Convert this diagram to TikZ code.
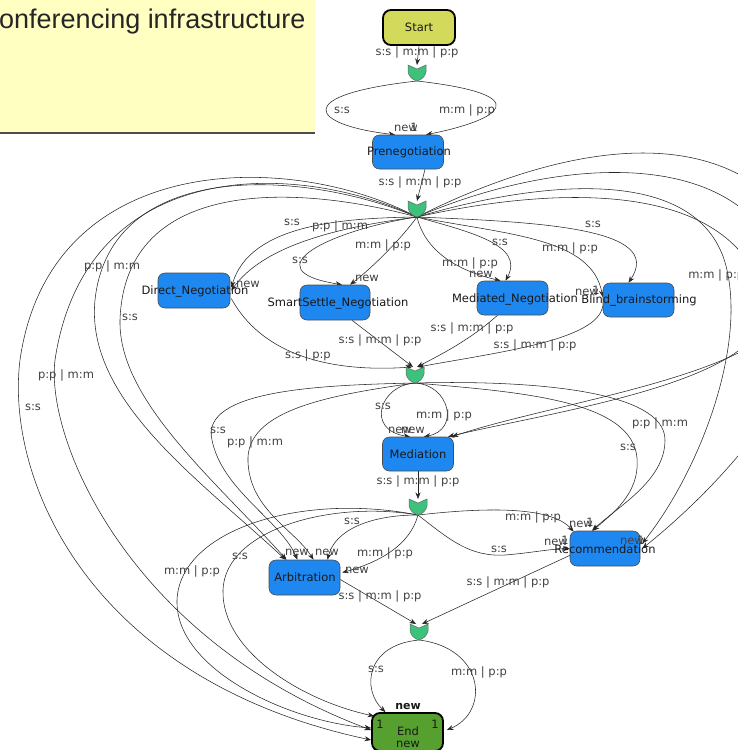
\documentclass[tikz,border=0pt]{standalone}
\usepackage{fontspec}
\setmainfont{DejaVu Sans}
\newfontfamily\titlefont{Liberation Sans}
\usetikzlibrary{arrows.meta,calc}
\definecolor{noteyellow}{HTML}{FFFFC2}
\definecolor{startfill}{HTML}{D3D95B}
\definecolor{bluefill}{HTML}{1E88F0}
\definecolor{mgreen}{HTML}{3DC27C}
\definecolor{endfill}{HTML}{56A02F}
\pgfdeclarelayer{bglayer}
\pgfdeclarelayer{edgelayer}
\pgfsetlayers{bglayer,edgelayer,main}
\newcommand{\shieldat}[1]{%
  \filldraw[fill=mgreen, draw=black!60, line width=0.5pt]
    ($(#1.center)+(-9,-8)$) -- ($(#1.center)+(-9,-1)$)
    .. controls ($(#1.center)+(-8,4)$) and ($(#1.center)+(-4,7)$) .. ($(#1.center)+(0,8)$)
    .. controls ($(#1.center)+(4,7)$) and ($(#1.center)+(8,4)$) .. ($(#1.center)+(9,-1)$)
    -- ($(#1.center)+(9,-8)$) -- ($(#1.center)+(0,-4)$) -- cycle;}
\begin{document}
\begin{tikzpicture}[x=1pt,y=-1pt,
  state/.style={draw=black!70, line width=0.6pt, fill=bluefill, rounded corners=7pt, minimum width=71pt, minimum height=34pt, inner sep=0pt},
  term/.style={draw=black, line width=1.8pt, rounded corners=8pt, inner sep=0pt},
  merge/.style={minimum width=18pt, minimum height=16pt, inner sep=0pt, outer sep=0pt},
  txt/.style={font=\fontsize{11.5}{13}\selectfont, text=black!90, inner sep=0pt},
  lab/.style={font=\fontsize{11.5}{13}\selectfont, text=black!75, inner sep=0pt},
  conn/.style={draw=black!85, line width=0.55pt, -{Stealth[length=6.5pt,width=5pt]}},
]
\useasboundingbox (0,0) rectangle (737,750);
\begin{pgfonlayer}{bglayer}
\fill[noteyellow] (0,0) rectangle (315,133);
\draw[black!70, line width=1.5pt] (0,133) -- (315,133);
\end{pgfonlayer}
\node[anchor=base west, font=\titlefont\fontsize{27}{30}\selectfont, text=black!85, inner sep=0pt] (title) at (-1,28) {onferencing infrastructure};

% state nodes
\node[term, fill=startfill, minimum width=72pt, minimum height=35pt] (startst) at (419,27.5) {};
\node[txt] (tstart) at (419,27.5) {Start};
\node[merge] (m1) at (417,73) {};
\node[state] (pre) at (408,152) {};
\node[merge] (m2) at (417,209) {};
\node[state, minimum width=72pt, minimum height=35pt] (direct) at (194,290.5) {};
\node[state, minimum width=70pt, minimum height=35pt] (smart) at (335,302.5) {};
\node[state] (medneg) at (512.5,298) {};
\node[state] (blind) at (638.5,300) {};
\node[merge] (m3) at (415,375) {};
\node[state] (mediation) at (418,454) {};
\node[merge] (m4) at (418,507) {};
\node[state, minimum height=35pt] (arb) at (304.5,577.5) {};
\node[state, minimum width=70pt, minimum height=35pt] (rec) at (605,548.5) {};
\node[merge] (m5) at (419,632) {};
\node[term, fill=endfill, minimum width=71pt, minimum height=38pt] (endst) at (407.5,732) {};

\shieldat{m1}
\shieldat{m2}
\shieldat{m3}
\shieldat{m4}
\shieldat{m5}

\begin{pgfonlayer}{edgelayer}
% Start -> m1 -> Prenegotiation
\draw[conn] (startst.south) -- (m1.north) node[lab] (e1) at (417,52) {s:s | m:m | p:p};
\draw[conn] (m1.south) .. controls (290,95) and (310,125) .. ($(pre.north)+(-13,0)$) node[lab] (e2) at (342,110) {s:s};
\draw[conn] (m1.south) .. controls (540,95) and (500,120) .. ($(pre.north)+(18,0)$) node[lab] (e3) at (467,110) {m:m | p:p};
\draw[conn] ($(pre.south)+(17,0)$) -- (m2.north) node[lab] (e4) at (420,182) {s:s | m:m | p:p};

% m2 -> negotiation states
\draw[conn] (m2.south) .. controls (340,218) and (250,225) .. ($(direct.east)+(1,-3)$) node[lab] (e5) at (292,222) {s:s};
\draw[conn] (m2.south) .. controls (330,228) and (262,248) .. ($(direct.east)+(1,0)$) node[lab] (e6) at (340,226) {p:p | m:m};
\draw[conn] (m2.south) .. controls (330,230) and (250,270) .. ($(smart.north)+(7,0)$) node[lab] (e7) at (300,260) {s:s};
\draw[conn] (m2.south) .. controls (400,240) and (372,268) .. ($(smart.north)+(15,0)$) node[lab] (e8) at (383,245) {m:m | p:p};
\draw[conn] (m2.south) .. controls (425,250) and (455,270) .. ($(medneg.north)+(-12,0)$) node[lab] (e9) at (470,263) {m:m | p:p};
\draw[conn] (m2.south) .. controls (470,232) and (525,245) .. ($(medneg.north)+(-7,0)$) node[lab] (e10) at (500,242) {s:s};
\draw[conn] (m2.south) .. controls (510,235) and (592,238) .. ($(blind.west)+(0,-3)$) node[lab] (e11) at (570,248) {m:m | p:p};
\draw[conn] (m2.south) .. controls (540,222) and (665,228) .. ($(blind.north)+(-10,0)$) node[lab] (e12) at (593,224) {s:s};

% m2 -> big left arcs
\draw[conn] (m2.south) .. controls (290,150) and (50,150) .. (20,360) .. controls (5,480) and (90,680) .. ($(endst.west)+(0,8)$) node[lab] (e13) at (33,407) {s:s};
\draw[conn] (m2.south) .. controls (290,158) and (85,160) .. (55,360) .. controls (45,440) and (130,640) .. ($(endst.west)+(0,-2)$) node[lab] (e14) at (66,375) {p:p | m:m};
\draw[conn] (m2.south) .. controls (300,168) and (110,160) .. (95,300) .. controls (85,400) and (200,480) .. ($(arb.north)+(-19,0)$) node[lab] (e15) at (112,266) {p:p | m:m};
\draw[conn] (m2.south) .. controls (300,185) and (125,175) .. (120,320) .. controls (118,400) and (215,480) .. ($(arb.north)+(-18,0)$) node[lab] (e16) at (130,317) {s:s};

% m2 -> big right arcs
\draw[conn] (m2.south) .. controls (550,150) and (720,110) .. (800,230) .. controls (860,330) and (740,470) .. ($(rec.east)+(2,0)$);
\draw[conn] (m2.south) .. controls (560,175) and (705,170) .. (727,270) .. controls (745,350) and (700,470) .. ($(rec.east)+(2,-5)$) node[lab, anchor=west] (e17) at (688,275) {m:m | p:p};
\draw[conn] (m2.south) .. controls (560,155) and (760,140) .. (790,290) .. controls (805,370) and (560,400) .. ($(mediation.north)+(34,0)$);
\draw[conn] (m2.south) .. controls (560,185) and (735,180) .. (765,300) .. controls (780,380) and (560,410) .. ($(mediation.north)+(30,0)$);

% into m3
\draw[conn] ($(direct.east)+(1,8)$) .. controls (265,360) and (340,372) .. ($(m3.north)+(-3,0)$) node[lab] (e18) at (308,355) {s:s | p:p};
\draw[conn] ($(smart.south)+(17,0)$) -- ($(m3.north)+(-2,0)$) node[lab] (e19) at (380,340) {s:s | m:m | p:p};
\draw[conn] ($(medneg.south)+(-15,0)$) .. controls (470,340) and (440,355) .. ($(m3.north)+(2,0)$) node[lab] (e20) at (472,328) {s:s | m:m | p:p};
\draw[conn] ($(blind.west)+(0,6)$) .. controls (598,340) and (500,352) .. ($(m3.north)+(3,0)$) node[lab] (e21) at (535,345) {s:s | m:m | p:p};

% m3 outgoing
\draw[conn] (m3.south) .. controls (380,385) and (365,430) .. ($(mediation.north)+(-8,0)$) node[lab] (e22) at (383,406) {s:s};
\draw[conn] (m3.south) .. controls (450,385) and (460,430) .. ($(mediation.north)+(6,0)$) node[lab] (e23) at (444,415) {m:m | p:p};
\draw[conn] (m3.south) .. controls (320,385) and (200,390) .. (212,440) .. controls (222,490) and (280,520) .. ($(arb.north)+(-7,0)$) node[lab] (e24) at (218,430) {s:s};
\draw[conn] (m3.south) .. controls (330,395) and (245,410) .. (248,462) .. controls (250,510) and (295,530) .. ($(arb.north)+(9,0)$) node[lab] (e25) at (255,442) {p:p | m:m};
\draw[conn] (m3.south) .. controls (530,380) and (665,390) .. (665,440) .. controls (665,480) and (620,505) .. ($(rec.north)+(-13,0)$) node[lab] (e26) at (660,423) {p:p | m:m};
\draw[conn] (m3.south) .. controls (520,392) and (632,400) .. (637,458) .. controls (640,495) and (610,515) .. ($(rec.north)+(-12,0)$) node[lab] (e27) at (628,447) {s:s};

% Mediation -> m4
\draw[conn] (mediation.south) -- (m4.north) node[lab] (e28) at (418,481) {s:s | m:m | p:p};

% m4 outgoing
\draw[conn] (m4.south) .. controls (370,515) and (335,530) .. ($(arb.north)+(23,0)$) node[lab] (e29) at (352,521) {s:s};
\draw[conn] (m4.south) .. controls (410,545) and (380,562) .. ($(arb.east)+(2,-5)$) node[lab] (e30) at (385,553) {m:m | p:p};
\draw[conn] (m4.south) .. controls (480,508) and (550,505) .. ($(rec.north west)+(4,1)$) node[lab] (e31) at (533,517) {m:m | p:p};
\draw[conn] (m4.south) .. controls (450,540) and (470,557) .. (505,555) .. controls (530,553) and (550,549) .. (rec.west) node[lab] (e32) at (499,549) {s:s};
\draw[conn] (m4.south) .. controls (300,492) and (180,530) .. (177,600) .. controls (175,670) and (290,722) .. ($(endst.west)+(0,-4)$) node[lab] (e33) at (192,571) {m:m | p:p};
\draw[conn] (m4.south) .. controls (330,500) and (225,530) .. (223,590) .. controls (221,650) and (300,700) .. ($(endst.north west)+(3,4)$) node[lab] (e34) at (240,556) {s:s};

% into m5
\draw[conn] ($(arb.east)+(0,2)$) -- ($(m5.north)+(-3,0)$) node[lab] (e35) at (380,596) {s:s | m:m | p:p};
\draw[conn] ($(rec.west)+(2,6)$) -- ($(m5.north)+(3,0)$) node[lab] (e36) at (508,582) {s:s | m:m | p:p};

% m5 -> End
\draw[conn] (m5.south) .. controls (365,645) and (362,690) .. ($(endst.north)+(-22,0)$) node[lab] (e37) at (376,669) {s:s};
\draw[conn] (m5.south) .. controls (485,648) and (490,712) .. ($(endst.east)+(3,-2)$) node[lab] (e38) at (479,672) {m:m | p:p};
\end{pgfonlayer}

% state texts
\node[txt] (tpre) at (409,152) {Prenegotiation};
\node[txt] (tdirect) at (195,291) {Direct\_Negotiation};
\node[txt] (tsmart) at (338,303) {SmartSettle\_Negotiation};
\node[txt] (tmedneg) at (515,299) {Mediated\_Negotiation};
\node[txt] (tblind) at (639,300) {Blind\_brainstorming};
\node[txt] (tmediation) at (418,454) {Mediation};
\node[txt] (tarb) at (305,577) {Arbitration};
\node[txt] (trec) at (605,549) {Recommendation};
\node[txt] (tend) at (408,731) {End};
\node[txt] (tendnew) at (408,744) {new};
\node[txt] (tone1) at (380,724) {1};
\node[txt] (tone2) at (435,724) {1};
\node[txt, font=\bfseries\fontsize{11}{12}\selectfont] (tendtop) at (408,706) {new};

% "new" markers
\node[lab] (n1) at (406,128) {new};
\node[lab] (n2) at (414,127) {1};
\node[lab] (n3) at (248,284) {new};
\node[lab] (n4) at (367,278) {new};
\node[lab] (n5) at (481,274) {new};
\node[lab] (n6) at (587,292) {new};
\node[lab] (n6b) at (596,290) {1};
\node[lab] (n7) at (400,430) {new};
\node[lab] (n8) at (413,430) {new};
\node[lab] (n9) at (297,552) {new};
\node[lab] (n10) at (327,552) {new};
\node[lab] (n11) at (357,570) {new};
\node[lab] (n12) at (581,524) {new};
\node[lab] (n12b) at (590,522) {1};
\node[lab] (n13) at (556,542) {new};
\node[lab] (n13b) at (565,540) {1};
\node[lab] (n14) at (632,541) {new};
\node[lab] (n14b) at (641,540) {1};
\end{tikzpicture}
\end{document}
